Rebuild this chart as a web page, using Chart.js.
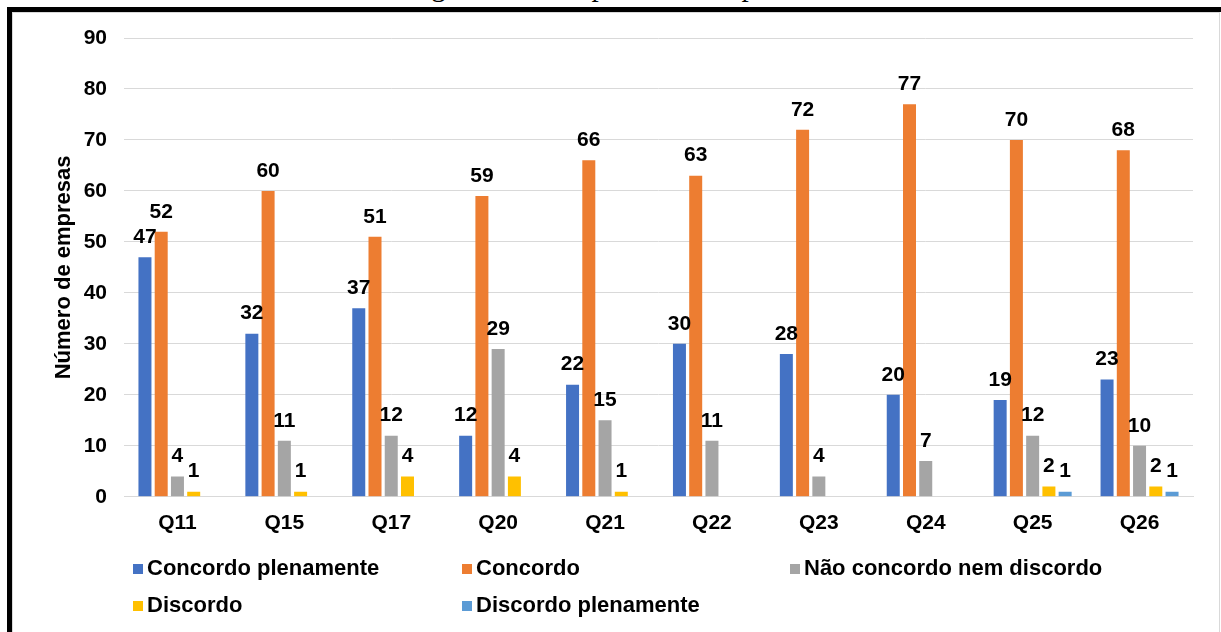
<!DOCTYPE html>
<html>
<head>
<meta charset="utf-8">
<script src="https://cdn.jsdelivr.net/npm/chart.js@4"></script>
<style>
  html, body { margin: 0; padding: 0; background: #fff; }
  body { width: 1221px; height: 632px; position: relative; overflow: hidden; font-family: "Liberation Sans", Arial, sans-serif; }
  #caption { position: absolute; left: 0; width: 1221px; top: -31px; text-align: center; font-family: "Liberation Serif", "Times New Roman", serif; font-size: 29px; line-height: 34px; color: #000; }
  #frame { position: absolute; left: 7px; top: 7px; width: 1300px; height: 700px; border: 5px solid #000; box-sizing: border-box; }
  #area { position: absolute; left: 12px; top: 12px; width: 1208px; height: 640px; border: 1px solid #d9d9d9; box-sizing: border-box; background: #fff; }
  #wrap { position: absolute; left: 0; top: 0; width: 1221px; height: 548px; }
  #legend { position: absolute; left: 0; top: 0; width: 1221px; height: 632px; pointer-events: none; }
  .item { position: absolute; font-weight: bold; font-size: 22px; color: #000; white-space: nowrap; line-height: 26px; }
  .item span.box { position: absolute; left: 0; top: 9px; width: 10px; height: 10px; }
  .item span.txt { position: absolute; left: 14px; top: 0; }
</style>
</head>
<body>
<div id="caption">Figura 10 – Respostas de empresas</div>
<div id="frame"></div>
<div id="area"></div>
<div id="wrap"><canvas id="chart" width="1221" height="548"></canvas></div>
<div id="legend"></div>
<script>
// data
const categories = ['Q11', 'Q15', 'Q17', 'Q20', 'Q21', 'Q22', 'Q23', 'Q24', 'Q25', 'Q26'];
const concordoPlenamente = [47, 32, 37, 12, 22, 30, 28, 20, 19, 23];
const concordo = [52, 60, 51, 59, 66, 63, 72, 77, 70, 68];
const naoConcordoNemDiscordo = [4, 11, 12, 29, 15, 11, 4, 7, 12, 10];
const discordo = [1, 1, 4, 4, 1, null, null, null, 2, 2];
const discordoPlenamente = [null, null, null, null, null, null, null, null, 1, 1];
const yTicks = [0, 10, 20, 30, 40, 50, 60, 70, 80, 90];

const seriesNames = ['Concordo plenamente', 'Concordo', 'Não concordo nem discordo', 'Discordo', 'Discordo plenamente'];
const seriesData = [concordoPlenamente, concordo, naoConcordoNemDiscordo, discordo, discordoPlenamente];
const colors = ['#4472C4', '#ED7D31', '#A5A5A5', '#FFC000', '#5B9BD5'];

const FONT = '"Liberation Sans", Arial, sans-serif';

// value labels above each bar
const valueLabels = {
    id: 'valueLabels',
    afterDatasetsDraw(chart) {
        const ctx = chart.ctx;
        ctx.save();
        ctx.font = 'bold 21px ' + FONT;
        ctx.fillStyle = '#000';
        ctx.textAlign = 'center';
        ctx.textBaseline = 'middle';
        chart.data.datasets.forEach((ds, i) => {
            const meta = chart.getDatasetMeta(i);
            meta.data.forEach((bar, j) => {
                const v = ds.data[j];
                if (v === null || v === 0) return;
                ctx.fillText(String(v), bar.x, bar.y - 20);
            });
        });
        ctx.restore();
    }
};

new Chart(document.getElementById('chart'), {
    type: 'bar',
    data: {
        labels: categories,
        datasets: seriesData.map((d, i) => ({
            label: seriesNames[i],
            data: d,
            backgroundColor: colors[i],
            categoryPercentage: 0.76,
            barPercentage: 0.8
        }))
    },
    options: {
        responsive: false,
        animation: false,
        layout: { padding: { left: 45, right: 28, top: 38, bottom: 6 } },
        plugins: {
            legend: { display: false },
            tooltip: { enabled: false }
        },
        scales: {
            x: {
                grid: { display: false },
                border: { display: true, color: '#d9d9d9', width: 1 },
                ticks: { color: '#000', font: { family: FONT, size: 21, weight: 'bold' }, padding: 6 }
            },
            y: {
                min: 0,
                max: 90,
                afterBuildTicks(scale) { scale.ticks = yTicks.map(v => ({ value: v })); },
                afterFit(scale) { scale.width = 124 - 45; },
                grid: { color: '#d9d9d9', lineWidth: 1, drawTicks: false },
                border: { display: false },
                ticks: { color: '#000', font: { family: FONT, size: 21, weight: 'bold' }, padding: 17 },
                title: {
                    display: true,
                    text: 'Número de empresas',
                    color: '#000',
                    font: { family: FONT, size: 22, weight: 'bold' },
                    padding: { top: 6, bottom: 0 }
                }
            }
        }
    },
    plugins: [valueLabels]
});

// legend laid out in columns like the original
const legendPos = [[133, 555], [462, 555], [790, 555], [133, 592], [462, 592]];
const legend = document.getElementById('legend');
seriesNames.forEach((name, i) => {
    const el = document.createElement('div');
    el.className = 'item';
    el.style.left = legendPos[i][0] + 'px';
    el.style.top = legendPos[i][1] + 'px';
    el.innerHTML = '<span class="box" style="background:' + colors[i] + '"></span><span class="txt"></span>';
    el.querySelector('.txt').textContent = name;
    legend.appendChild(el);
});
</script>
</body>
</html>
